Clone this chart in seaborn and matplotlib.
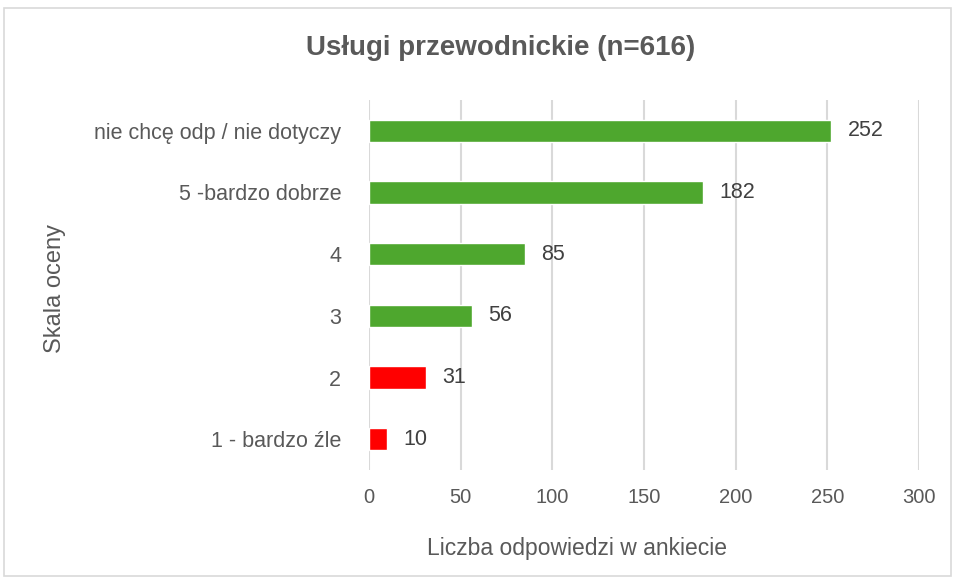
import matplotlib.pyplot as plt
import seaborn as sns
import pandas as pd
from matplotlib.patches import Rectangle

categories = ["nie chcę odp / nie dotyczy", "5 -bardzo dobrze", "4", "3", "2", "1 - bardzo źle"]
counts = [252, 182, 85, 56, 31, 10]
bar_colors = ["#4EA72E", "#4EA72E", "#4EA72E", "#4EA72E", "#FF0000", "#FF0000"]
x_ticks = [0, 50, 100, 150, 200, 250, 300]

df = pd.DataFrame({"ocena": categories, "liczba": counts})

sns.set_theme(style="white")
plt.rcParams["font.family"] = ["Liberation Sans", "DejaVu Sans"]

fig = plt.figure(figsize=(9.55, 5.83), dpi=100)
ax = fig.add_axes([0.3864, 0.1938, 0.5759, 0.6347])

sns.barplot(
    data=df, x="liczba", y="ocena", hue="ocena",
    palette=dict(zip(categories, bar_colors)),
    width=0.36, legend=False, ax=ax, saturation=1
)

for i, v in enumerate(counts):
    ax.text(v + 9, i, str(v), va="center", ha="left", fontsize=15.5, color="#404040")

ax.set_xlim(0, 300)
ax.set_ylim(5.5, -0.5)
ax.set_xticks(x_ticks)
ax.set_xticklabels([str(t) for t in x_ticks], fontsize=14.5, color="#595959")
ax.tick_params(axis="y", labelsize=15.5, labelcolor="#595959", pad=20, length=0)
ax.tick_params(axis="x", pad=13, length=0)
ax.set_axisbelow(True)
ax.grid(axis="x", color="#D9D9D9", linewidth=1.5)
for s in ax.spines.values():
    s.set_visible(False)
ax.set_xlabel("")
ax.set_ylabel("")

fig.text(0.524, 0.918, "Usługi przewodnickie (n=616)", ha="center", va="center",
         fontsize=20, fontweight="bold", color="#595959")
fig.text(0.604, 0.06, "Liczba odpowiedzi w ankiecie", ha="center", va="center",
         fontsize=16.5, color="#595959")
fig.text(0.058, 0.505, "Skala oceny", ha="center", va="center", rotation=90,
         fontsize=17, color="#595959")

fig.patches.append(Rectangle((0.004, 0.012), 0.992, 0.974, transform=fig.transFigure,
                             fill=False, edgecolor="#D9D9D9", linewidth=1.2))

fig.savefig("out.png", dpi=100)
plt.close(fig)
